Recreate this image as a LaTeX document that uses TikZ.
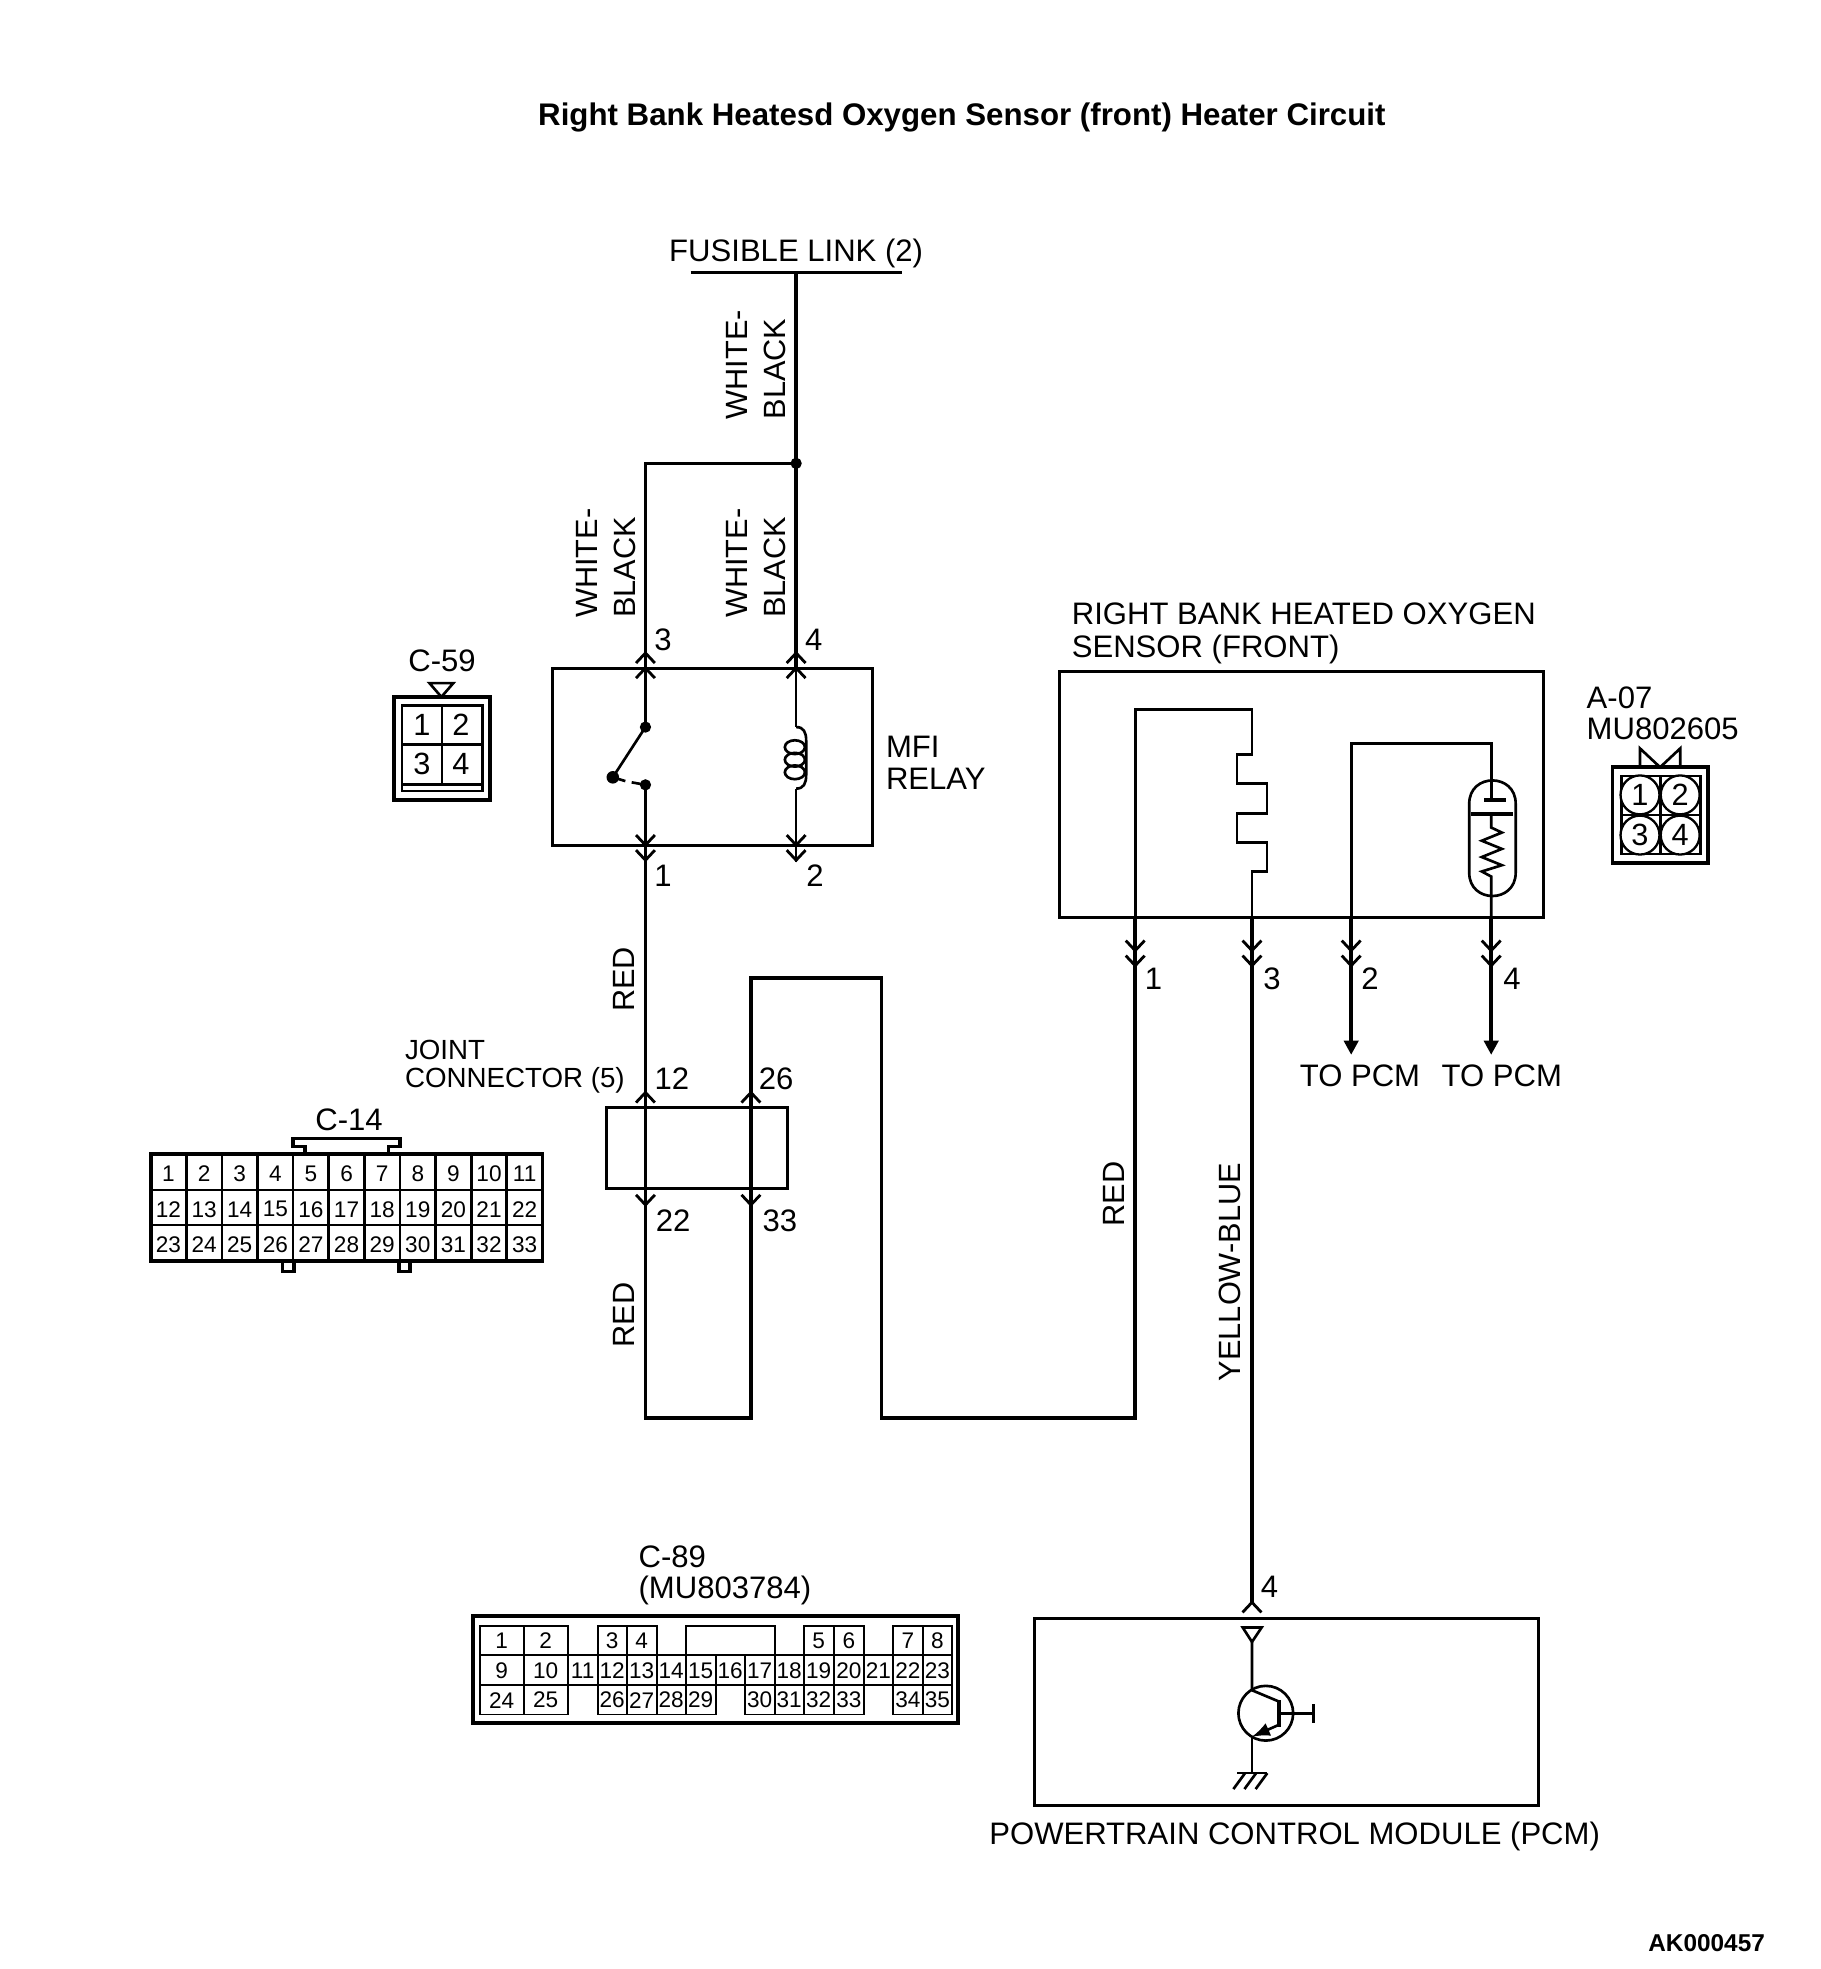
\documentclass[tikz,border=0pt]{standalone}
\usepackage{fontspec}
\setmainfont{Liberation Sans}
\usetikzlibrary{arrows.meta}
\def\barbup(#1,#2){\draw[barb] (#1,#2) ++(-7.5,8) -- ++(7.5,-8) -- ++(7.5,8);}
\def\barbdown(#1,#2){\draw[barb] (#1,#2) ++(-7.5,-8) -- ++(7.5,8) -- ++(7.5,-8);}
\def\cellbox#1#2#3#4{\draw[cell] (#2,#4) rectangle (#3,{#4+23.6});
	\node[pinsmall] (cb#1) at ({(#2+#3)/2},{#4+12.2}) {#1};}
\tikzset{
	wire/.style={line width=1.05pt},
	lead/.style={line width=0.75pt},
	barb/.style={line width=0.8pt},
	cell/.style={line width=0.55pt},
	topcm/.style={-{Triangle[length=4pt,width=4pt]}},
	unitbox/.style 2 args={draw,line width=0.85pt,inner sep=0,minimum width=#1*0.125mm,minimum height=#2*0.125mm},
	txt/.style={inner sep=0,anchor=base,font=\fontsize{8.8}{10.7}\selectfont},
	stacked/.style={inner sep=0,anchor=south west,align=left,font=\fontsize{8.8}{#1}\selectfont},
	vlabel/.style={inner sep=0,anchor=south west,rotate=90,align=left,font=\fontsize{8.7}{10.7}\selectfont},
	rlabel/.style={inner sep=0,anchor=south,rotate=90,font=\fontsize{8.7}{10.7}\selectfont},
	pinsmall/.style={inner sep=0,font=\fontsize{6.4}{7}\selectfont},
	pinbig/.style={inner sep=0,font=\fontsize{8.7}{10}\selectfont},
}
\begin{document}
\begin{tikzpicture}[x=0.125mm,y=-0.125mm]
	%%%%% START %%%%%
	\useasboundingbox (0,0) rectangle (1450,1568);

	\node[txt,font=\fontsize{8.85}{11}\selectfont\bfseries] (title) at (766,100) {Right Bank Heatesd Oxygen Sensor (front) Heater Circuit};
	\node[txt,anchor=base east,font=\fontsize{6.9}{8}\selectfont\bfseries] (code) at (1406,1554) {AK000457};

	% relay and sensor
	\node[unitbox={255}{141}] (relay) at (567.5,602.5) {};
	\node[unitbox={385}{196}] (sensor) at (1036.5,633) {};
	\node[unitbox={144}{64}] (joint) at (555,914.2) {};
	\node[unitbox={401}{149}] (pcm) at (1024.5,1363.5) {};

	\coordinate (fusel) at (550,217);
	\coordinate (fuser) at (718,217);
	\coordinate (fuse) at (634,217);
	\coordinate (tee) at (634,369);
	\coordinate (teel) at (514,369);
	\coordinate (swtop) at (514,579);
	\coordinate (swbot) at (514,625);
	\coordinate (swarm) at (488,619);
	\coordinate (coilt) at (634,579);
	\coordinate (coilb) at (634,628);
	\coordinate (jbot) at (514,1129);
	\coordinate (jret) at (598,1129);
	\coordinate (jtop) at (598,779);
	\coordinate (jtopr) at (702,779);
	\coordinate (lowl) at (702,1129);
	\coordinate (lowr) at (904,1129);
	\coordinate (heata) at (904,565);
	\coordinate (heatb) at (997,565);
	\coordinate (heatc) at (997,694);
	\coordinate (pcmin) at (997,1276);
	\coordinate (senb) at (1076,592);
	\coordinate (senc) at (1187.5,592);
	\coordinate (pcma) at (1076,840);
	\coordinate (pcmb) at (1187.5,840);

	\draw[wire] (fusel) -- (fuser);
	\draw[wire] (fuse) -- (tee) -- (relay.north -| tee);
	\draw[wire] (tee) -- (teel) -- (relay.north -| teel);
	\fill (tee) circle (4.5);
	\draw[lead] (relay.north -| swtop) -- (swtop);
	\draw[lead] (relay.north -| coilt) -- (coilt);
	\draw[lead] (swbot) -- (relay.south -| swbot);
	\draw[lead] (coilb) -- (relay.south -| coilb) -- ++(0,12);
	\draw[wire] (relay.south -| jbot) -- (jbot) -- (jret) -- (jtop) -- (jtopr) -- (lowl) -- (lowr) -- (sensor.south -| lowr);
	\draw[lead] (sensor.south -| lowr) -- (heata) -- (heatb) -- (997,601) -- (985,601) -- (985,624) -- (1009,624) -- (1009,648) -- (985,648) -- (985,671) -- (1009,671) -- (1009,694) -- (heatc) -- (sensor.south -| heatc);
	\draw[wire] (sensor.south -| heatc) -- (pcmin);
	\draw[lead] (pcma |- sensor.south) -- (senb) -- (senc) -- (1187.5,637);
	\draw[lead] (1187.5,648) -- (1187.5,659) -- (1196,663) -- (1180,669.5) -- (1196,676) -- (1180,682.5) -- (1196,689) -- (1180,694) -- (1187.5,698) -- (senc |- sensor.south);
	\draw[wire,topcm] (pcma |- sensor.south) -- (pcma);
	\draw[wire,topcm] (pcmb |- sensor.south) -- (pcmb);

	% switch
	\fill (swtop) circle (4.5);
	\fill (swbot) circle (4.5);
	\fill (swarm) circle (5);
	\draw[lead] (swtop) -- (swarm);
	\draw[lead] (swbot) -- (503,623);
	\draw[lead] (swarm) -- (498,622);

	% coil
	\draw[lead] (coilt) .. controls (640,579) and (642,583) .. (642,590) -- (642,617) .. controls (642,624) and (640,628) .. (coilb);
	\foreach \y in {595,605,615}
		\draw[lead] (633,\y) ellipse (8 and 5.5);

	% heater capsule
	\draw[lead] (1170,640) .. controls (1170,615.3) and (1207,615.3) .. (1207,640) -- (1207,695) .. controls (1207,719.7) and (1170,719.7) .. (1170,695) -- cycle;
	\draw[wire] (1182,637) -- (1199,637);
	\draw[wire] (1171.5,648) -- (1204.5,648);

	% barbs
	\barbup(514,520) \barbup(514,532)
	\barbup(634,520) \barbup(634,532)
	\barbdown(514,673) \barbdown(514,685)
	\barbdown(634,673) \barbdown(634,685)
	\barbdown(904,757) \barbdown(904,769)
	\barbdown(997,757) \barbdown(997,769)
	\barbdown(1076,757) \barbdown(1076,769)
	\barbdown(1187.5,757) \barbdown(1187.5,769)
	\barbup(514,870)
	\barbup(598,870)
	\barbdown(514,959.5)
	\barbdown(598,959.5)
	\barbup(997,1276)

	% transistor
	\coordinate (qc) at (997,1346);
	\coordinate (qe) at (997,1383);
	\coordinate (qg) at (997,1412);
	\draw[lead] (989.6,1296) -- (1004.7,1296) -- (997,1307.5) -- cycle;
	\draw[lead] (997,1307.5) -- (qc) -- (1018.5,1355);
	\draw[lead] (1008,1364.3) circle (21.8);
	\draw[wire] (1018.5,1354) -- (1018.5,1375);
	\draw[lead] (1018.5,1364.3) -- (1045.8,1364.3);
	\draw[lead] (1045.8,1357) -- (1045.8,1372);
	\draw[lead,-latex] (1018.5,1373.5) -- (qe);
	\draw[lead] (qe) -- (qg);
	\draw[lead] (985.3,1412) -- (1009.2,1412);
	\foreach \x in {991.5,1000.3,1009.2}
		\draw[lead] (\x,1412) -- ++(-9.3,12.7);

	% wire labels
	\node[vlabel] (wba) at (626,334.5) {WHITE-\\BLACK};
	\node[vlabel] (wbb) at (507,492.5) {WHITE-\\BLACK};
	\node[vlabel] (wbc) at (626,492.5) {WHITE-\\BLACK};
	\node[rlabel] (reda) at (506,780) {RED};
	\node[rlabel] (redb) at (506,1047) {RED};
	\node[rlabel] (redc) at (896,951) {RED};
	\node[rlabel] (yb) at (989,1013) {YELLOW-BLUE};

	% text
	\node[txt] (fusible) at (634,208.5) {FUSIBLE LINK (2)};
	\node[txt] (p3) at (528,518) {3};
	\node[txt] (p4) at (648,518) {4};
	\node[txt] (p1) at (528,706) {1};
	\node[txt] (p2) at (649,706) {2};
	\node[stacked=8.9pt] (mfi) at (705,629) {MFI\\RELAY};
	\node[stacked=9.2pt] (sentxt) at (853,529) {RIGHT BANK HEATED OXYGEN\\SENSOR (FRONT)};
	\node[txt] (s1) at (918.5,788) {1};
	\node[txt] (s3) at (1013,788) {3};
	\node[txt] (s2) at (1091,788) {2};
	\node[txt] (s4) at (1204,788) {4};
	\node[txt] (topcma) at (1083,865) {TO PCM};
	\node[txt] (topcmb) at (1196,865) {TO PCM};
	\node[inner sep=0,anchor=south west,align=left,font=\fontsize{7.85}{7.85}\selectfont] (jointtxt) at (322,871) {JOINT\\CONNECTOR (5)};
	\node[txt] (j12) at (535,867.5) {12};
	\node[txt] (j26) at (618,867.5) {26};
	\node[txt] (j22) at (536,981) {22};
	\node[txt] (j33) at (621,981) {33};
	\node[txt] (pcm4) at (1011,1272) {4};
	\node[txt] (pcmtxt) at (1031,1469) {POWERTRAIN CONTROL MODULE (PCM)};

	% C-59
	\node[txt] (cfnine) at (352,535) {C-59};
	\draw[lead] (342,544) -- (361,544) -- (351.5,555) -- cycle;
	\draw[wire] (314,555) rectangle (390,637);
	\draw[lead] (320,562) rectangle (384,630);
	\draw[lead] (352,562) -- (352,624.5);
	\draw[lead] (320,593) -- (384,593);
	\draw[lead] (320,624.5) -- (384,624.5);
	\node[pinbig] (cfa) at (336,577) {1};
	\node[pinbig] (cfb) at (367,577) {2};
	\node[pinbig] (cfc) at (336,608) {3};
	\node[pinbig] (cfd) at (367,608) {4};

	% A-07
	\node[stacked=8.9pt] (asev) at (1263,590) {A-07\\MU802605};
	\draw[lead] (1306,611) -- (1306,596) -- (1322,611) -- (1338,596) -- (1338,611);
	\draw[wire] (1284,611) rectangle (1360,687);
	\draw[lead] (1291,618) rectangle (1354,680);
	\draw[lead] (1322.5,618) -- (1322.5,680);
	\draw[lead] (1291,649) -- (1354,649);
	\foreach \x/\y/\n in {1306/633/1,1338/633/2,1306/665/3,1338/665/4}
		\node[pinbig,circle,draw,fill=white,line width=0.65pt,minimum size=31*0.125mm] (as\n) at (\x,\y) {\n};

	% C-14
	\node[txt] (cft) at (278,900) {C-14};
	\draw[wire] (243,919) -- (243,913) -- (233.4,913) -- (233.4,906.6) -- (318.6,906.6) -- (318.6,913) -- (309.3,913) -- (309.3,919);
	\draw[wire] (225,1004) -- (225,1012.5) -- (234,1012.5) -- (234,1004);
	\draw[wire] (318,1004) -- (318,1012.5) -- (326.5,1012.5) -- (326.5,1004);
	\draw[wire] (120,919) rectangle (432,1004);
	\draw[lead] (120,947.6) -- (432,947.6);
	\draw[lead] (120,975.6) -- (432,975.6);
	\foreach \c in {1,...,10}
		\draw[lead] ({120+28.36*\c},919) -- ({120+28.36*\c},1004);
	\foreach \r in {0,1,2}
		\foreach \c in {1,...,11}{
			\pgfmathtruncatemacro\n{\r*11+\c}
			\node[pinsmall] (ca\n) at ({120+28.36*(\c-0.5)},{934.6+28.4*\r}) {\n};
		}

	% C-89
	\node[stacked=8.9pt] (ceight) at (508,1279) {C-89\\(MU803784)};
	\draw[wire] (376.4,1287) rectangle (763,1372);
	\draw[cell] (546,1294.5) rectangle (617,1318);
	\foreach \n/\a/\b in {1/382/417,2/417/452,3/476/499,4/499/523,5/640/664,6/664/688,7/711/735,8/735/758}{
		\cellbox{\n}{\a}{\b}{1294.5}
	}
	\foreach \n/\a/\b in {9/382/417,10/417/452,11/452/476,12/476/499,13/499/523,14/523/546,15/546/570,16/570/593,17/593/617,18/617/640,19/640/664,20/664/688,21/688/711,22/711/735,23/735/758}{
		\cellbox{\n}{\a}{\b}{1318.1}
	}
	\foreach \n/\a/\b in {24/382/417,25/417/452,26/476/499,27/499/523,28/523/546,29/546/570,30/593/617,31/617/640,32/640/664,33/664/688,34/711/735,35/735/758}{
		\cellbox{\n}{\a}{\b}{1341.7}
	}

	%%%%% END %%%%%
\end{tikzpicture}
\end{document}
